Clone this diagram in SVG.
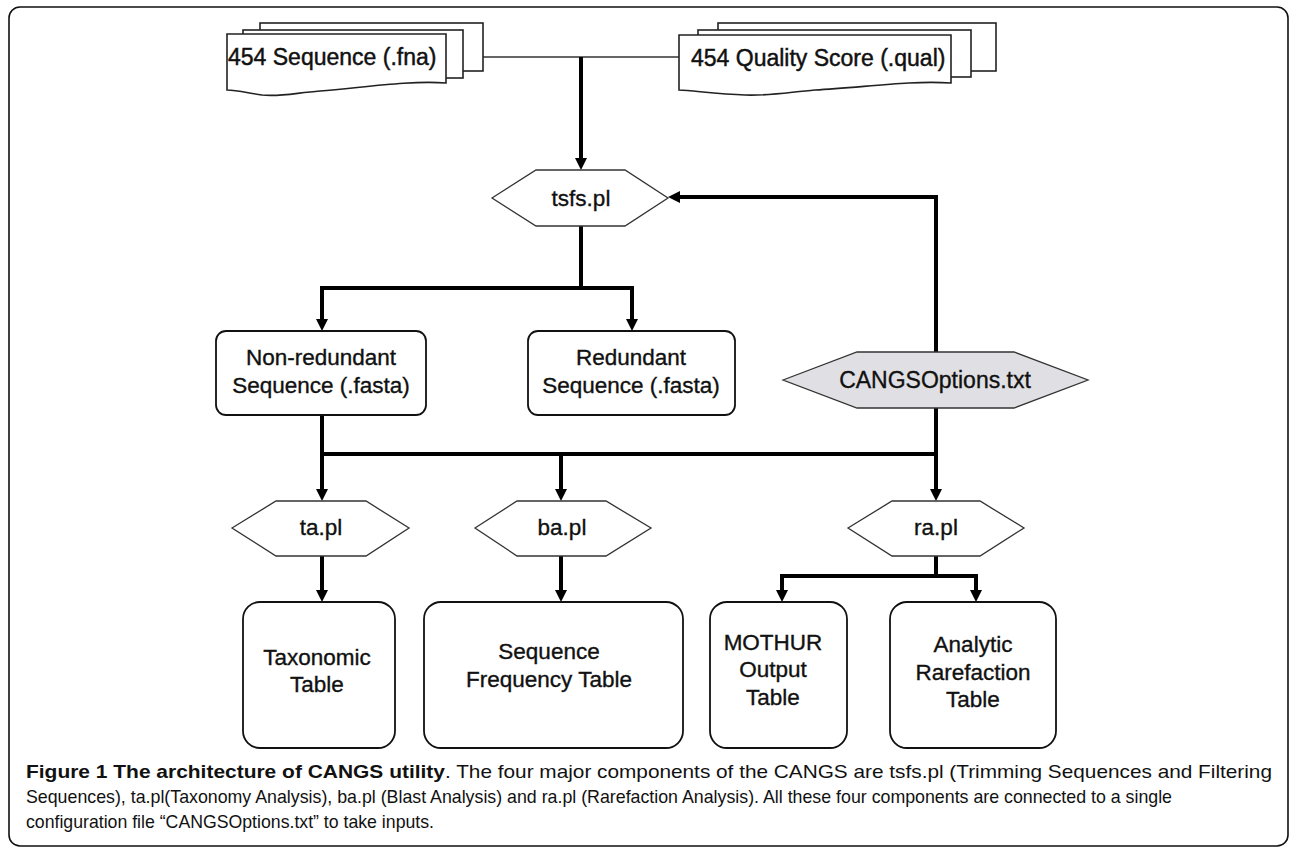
<svg xmlns="http://www.w3.org/2000/svg" width="1290" height="848" viewBox="0 0 1290 848">
<style>
.lbl{font-family:"Liberation Sans",Arial,sans-serif;font-size:22.5px;fill:#111;stroke:#111;stroke-width:0.35;text-anchor:middle}
.doc{font-family:"Liberation Sans",Arial,sans-serif;font-size:23px;fill:#111;stroke:#111;stroke-width:0.45}
.hex{fill:#fff;stroke:#333;stroke-width:1.3}
.box{fill:#fff;stroke:#111;stroke-width:1.8}
.page{fill:#fff;stroke:#222;stroke-width:1.6}
.conn{fill:none;stroke:#000;stroke-width:4}
.thin{fill:none;stroke:#333;stroke-width:1.6}
.cap{font-family:"Liberation Sans",Arial,sans-serif;font-size:18.5px;fill:#111}
</style>
<defs>
<marker id="ah" viewBox="0 0 12 12" refX="4" refY="6" markerWidth="12" markerHeight="12" markerUnits="userSpaceOnUse" orient="auto">
<path d="M0,0 L12,6 L0,12 z" fill="#000"/>
</marker>
</defs>
<rect x="0" y="0" width="1290" height="848" fill="#fff"/>
<rect x="9" y="7" width="1279" height="839" rx="11" fill="none" stroke="#111" stroke-width="1.6"/>

<g id="connectors">
<line class="thin" x1="483" y1="57" x2="679" y2="57"/>
<line class="conn" x1="581" y1="57" x2="581" y2="162" marker-end="url(#ah)"/>
<polyline class="conn" points="936,352 936,197 676,197" marker-end="url(#ah)"/>
<line class="conn" x1="581" y1="226" x2="581" y2="288"/>
<polyline class="conn" points="322,323 322,288 632,288 632,323"/>
<line class="conn" x1="322" y1="290" x2="322" y2="323" marker-end="url(#ah)"/>
<line class="conn" x1="632" y1="290" x2="632" y2="323" marker-end="url(#ah)"/>
<line class="conn" x1="322" y1="415" x2="322" y2="493" marker-end="url(#ah)"/>
<line class="conn" x1="320" y1="454" x2="938" y2="454"/>
<line class="conn" x1="561" y1="454" x2="561" y2="493" marker-end="url(#ah)"/>
<line class="conn" x1="936" y1="408" x2="936" y2="493" marker-end="url(#ah)"/>
<line class="conn" x1="322" y1="556" x2="322" y2="594" marker-end="url(#ah)"/>
<line class="conn" x1="561" y1="556" x2="561" y2="594" marker-end="url(#ah)"/>
<line class="conn" x1="936" y1="556" x2="936" y2="576"/>
<polyline class="conn" points="782,594 782,576 976,576 976,594"/>
<line class="conn" x1="782" y1="580" x2="782" y2="594" marker-end="url(#ah)"/>
<line class="conn" x1="976" y1="580" x2="976" y2="594" marker-end="url(#ah)"/>
</g>

<g id="doc-fna">
<rect class="page" x="260" y="23" width="223" height="48"/>
<rect class="page" x="243" y="30" width="220" height="48"/>
<path class="page" d="M227,34 H446 V83 C410,80 360,88 320,91 C295,93 280,97 262,95 C248,93 237,90 227,90 Z"/>
<text class="doc" x="228" y="65">454 Sequence (.fna)</text>
</g>

<g id="doc-qual">
<rect class="page" x="718" y="23" width="278" height="48"/>
<rect class="page" x="698" y="30" width="273" height="47"/>
<path class="page" d="M679,35 H951 V83 C910,80 860,88 815,90 C790,92 770,96 745,95 C720,94 695,91 679,90 Z"/>
<text class="doc" x="691" y="66">454 Quality Score (.qual)</text>
</g>

<g id="tsfs">
<polygon class="hex" points="492,198 536,170 625,170 668,198 625,226 536,226"/>
<text class="lbl" x="581" y="206">tsfs.pl</text>
</g>

<g id="nonredundant">
<rect class="box" x="216" y="331" width="210" height="84" rx="10"/>
<text class="lbl" x="321" y="365">Non-redundant</text>
<text class="lbl" x="321" y="393">Sequence (.fasta)</text>
</g>

<g id="redundant">
<rect class="box" x="528" y="331" width="207" height="84" rx="10"/>
<text class="lbl" x="631" y="365">Redundant</text>
<text class="lbl" x="631" y="393">Sequence (.fasta)</text>
</g>

<g id="cangsoptions">
<polygon points="783,380 857,352 1014,352 1088,380 1014,408 857,408" fill="#e0e0e4" stroke="#333" stroke-width="1.3"/>
<text class="lbl" x="935" y="388" style="font-size:23px">CANGSOptions.txt</text>
</g>

<g id="ta">
<polygon class="hex" points="232,528 276,501 366,501 409,528 366,556 276,556"/>
<text class="lbl" x="321" y="535">ta.pl</text>
</g>

<g id="ba">
<polygon class="hex" points="475,528 517,501 606,501 651,528 606,556 517,556"/>
<text class="lbl" x="562" y="535">ba.pl</text>
</g>

<g id="ra">
<polygon class="hex" points="848,528 892,501 980,501 1024,528 980,556 892,556"/>
<text class="lbl" x="936" y="535">ra.pl</text>
</g>

<g id="taxonomic">
<rect class="box" x="243" y="602" width="152" height="146" rx="17"/>
<text class="lbl" x="317" y="665">Taxonomic</text>
<text class="lbl" x="317" y="692">Table</text>
</g>

<g id="seqfreq">
<rect class="box" x="424" y="602" width="259" height="146" rx="17"/>
<text class="lbl" x="549" y="659">Sequence</text>
<text class="lbl" x="549" y="687">Frequency Table</text>
</g>

<g id="mothur">
<rect class="box" x="710" y="602" width="137" height="146" rx="17"/>
<text class="lbl" x="773" y="650">MOTHUR</text>
<text class="lbl" x="773" y="677">Output</text>
<text class="lbl" x="773" y="705">Table</text>
</g>

<g id="rarefaction">
<rect class="box" x="890" y="602" width="166" height="146" rx="17"/>
<text class="lbl" x="973" y="652">Analytic</text>
<text class="lbl" x="973" y="680">Rarefaction</text>
<text class="lbl" x="973" y="707">Table</text>
</g>

<g id="caption">
<text class="cap" x="26" y="778" font-weight="bold" textLength="419" lengthAdjust="spacingAndGlyphs">Figure 1 The architecture of CANGS utility</text>
<text class="cap" x="445" y="778" textLength="827" lengthAdjust="spacingAndGlyphs">. The four major components of the CANGS are tsfs.pl (Trimming Sequences and Filtering</text>
<text class="cap" x="26" y="803" textLength="1146" lengthAdjust="spacingAndGlyphs">Sequences), ta.pl(Taxonomy Analysis), ba.pl (Blast Analysis) and ra.pl (Rarefaction Analysis). All these four components are connected to a single</text>
<text class="cap" x="26" y="828" textLength="408" lengthAdjust="spacingAndGlyphs">configuration file “CANGSOptions.txt” to take inputs.</text>
</g>
</svg>
